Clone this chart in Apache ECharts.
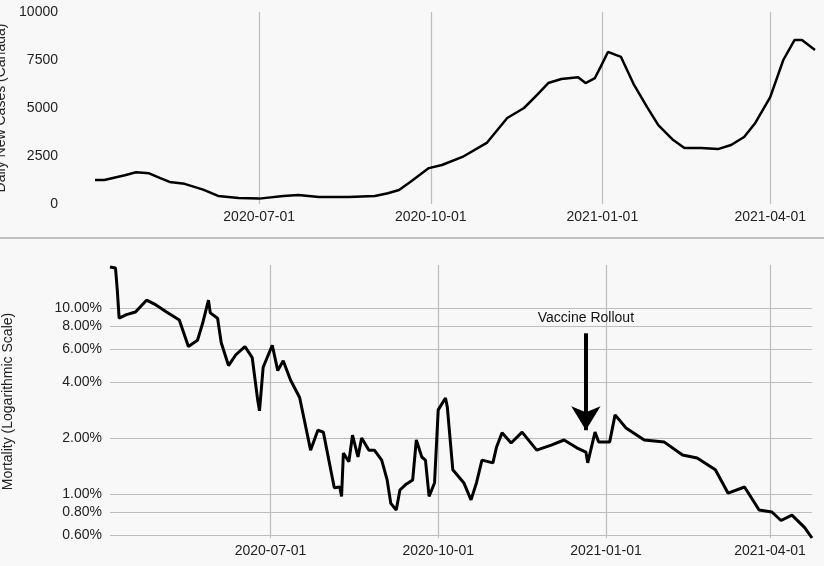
<!DOCTYPE html>
<html>
<head>
<meta charset="utf-8">
<title>Canada cases and mortality</title>
<script src="https://cdn.jsdelivr.net/npm/echarts@6/dist/echarts.min.js"></script>
<style>body{margin:0;background:#f8f8f8}</style>
</head>
<body>
<div id="main" style="width:824px;height:566px;"></div>
<script type="text/javascript">
var caseDates = ['2020-04-04','2020-04-09','2020-04-20','2020-04-26','2020-05-03','2020-05-09','2020-05-14','2020-05-22','2020-06-01','2020-06-09','2020-06-20','2020-07-01','2020-07-14','2020-07-22','2020-08-02','2020-08-18','2020-09-01','2020-09-08','2020-09-14','2020-09-20','2020-09-30','2020-10-07','2020-10-18','2020-10-31','2020-11-11','2020-11-20','2020-11-27','2020-12-03','2020-12-10','2020-12-19','2020-12-23','2020-12-28','2020-12-31','2021-01-04','2021-01-11','2021-01-18','2021-01-25','2021-01-31','2021-02-08','2021-02-14','2021-02-23','2021-03-04','2021-03-11','2021-03-18','2021-03-24','2021-04-01','2021-04-08','2021-04-14','2021-04-18','2021-04-25'];
var caseValues = [1250,1250,1500,1650,1600,1350,1150,1050,750,420,310,280,420,470,370,370,420,560,730,1150,1870,2030,2450,3180,4480,5000,5680,6300,6510,6600,6300,6560,7130,7920,7660,6200,5050,4110,3330,2920,2920,2860,3070,3490,4220,5570,7500,8540,8540,8020];

var mortDates = ['2020-04-04','2020-04-07','2020-04-08','2020-04-09','2020-04-13','2020-04-18','2020-04-24','2020-04-29','2020-05-05','2020-05-12','2020-05-17','2020-05-22','2020-05-25','2020-05-28','2020-05-29','2020-06-02','2020-06-04','2020-06-08','2020-06-12','2020-06-17','2020-06-21','2020-06-24','2020-06-25','2020-06-27','2020-07-02','2020-07-05','2020-07-08','2020-07-12','2020-07-17','2020-07-23','2020-07-27','2020-07-30','2020-08-05','2020-08-08','2020-08-09','2020-08-10','2020-08-13','2020-08-15','2020-08-18','2020-08-20','2020-08-24','2020-08-27','2020-08-31','2020-09-03','2020-09-05','2020-09-08','2020-09-10','2020-09-13','2020-09-17','2020-09-19','2020-09-22','2020-09-24','2020-09-26','2020-09-29','2020-10-01','2020-10-05','2020-10-06','2020-10-09','2020-10-15','2020-10-19','2020-10-22','2020-10-25','2020-10-31','2020-11-02','2020-11-05','2020-11-10','2020-11-16','2020-11-24','2020-12-02','2020-12-09','2020-12-16','2020-12-21','2020-12-22','2020-12-26','2020-12-28','2021-01-03','2021-01-06','2021-01-12','2021-01-22','2021-02-02','2021-02-12','2021-02-20','2021-03-02','2021-03-09','2021-03-18','2021-03-26','2021-04-02','2021-04-07','2021-04-13','2021-04-20','2021-04-24'];
var mortValues = [16.6,16.4,12.5,8.8,9.2,9.5,11.0,10.4,9.5,8.6,6.2,6.7,8.4,11.0,9.4,8.8,6.5,4.9,5.6,6.2,5.4,3.2,2.8,4.8,6.3,4.6,5.2,4.1,3.3,1.72,2.2,2.15,1.08,1.09,0.97,1.66,1.49,2.07,1.58,2.0,1.72,1.72,1.52,1.19,0.89,0.82,1.05,1.12,1.19,1.95,1.58,1.52,0.97,1.15,2.83,3.28,2.93,1.35,1.15,0.93,1.15,1.52,1.47,1.79,2.13,1.88,2.15,1.72,1.83,1.95,1.77,1.68,1.47,2.15,1.9,1.9,2.66,2.26,1.95,1.9,1.62,1.56,1.35,1.01,1.09,0.82,0.80,0.72,0.77,0.66,0.58];

var quarterTicks = ['2020-07-01','2020-10-01','2021-01-01','2021-04-01'];
var mortTicks = [0.6,0.8,1,2,4,6,8,10];

var caseData = caseDates.map(function(d,i){ return [d, caseValues[i]]; });
var mortData = mortDates.map(function(d,i){ return [d, mortValues[i]]; });

var font = 'Liberation Sans, Arial, sans-serif';
var gridColor = '#bdbdbd';

function vLines(dist){
    return quarterTicks.map(function(d){
        return {xAxis: d, label: {formatter: d, position: 'start', distance: dist}};
    });
}

var myChart = echarts.init(document.getElementById('main'));
var option = {
    backgroundColor: '#f8f8f8',
    animation: false,
    textStyle: {fontFamily: font},
    graphic: [
        {type: 'line', shape: {x1: 0, y1: 238, x2: 824, y2: 238}, style: {stroke: '#888', lineWidth: 1}}
    ],
    grid: [
        {left: 95, right: 9, top: 12, bottom: 362, containLabel: false, outerBoundsMode: 'none'},
        {left: 110, right: 12, top: 265, bottom: 28, containLabel: false, outerBoundsMode: 'none'}
    ],
    xAxis: [
        {type: 'time', gridIndex: 0, min: '2020-04-04', max: '2021-04-25',
         axisLabel: {show: false}, axisTick: {show: false}, axisLine: {show: false}, splitLine: {show: false}},
        {type: 'time', gridIndex: 1, min: '2020-04-04', max: '2021-04-24',
         axisLabel: {show: false}, axisTick: {show: false}, axisLine: {show: false}, splitLine: {show: false}}
    ],
    yAxis: [
        {type: 'value', gridIndex: 0, min: 0, max: 10000, interval: 2500,
         name: 'Daily New Cases (Canada)', nameLocation: 'middle', nameGap: 80, nameRotate: 90,
         nameTextStyle: {fontSize: 14, color: '#222', fontFamily: font},
         axisLabel: {color: '#222', fontSize: 14, margin: 37, formatter: function(v){ return String(v); }},
         axisLine: {show: false}, axisTick: {show: false}, splitLine: {show: false}},
        {type: 'log', gridIndex: 1, min: 0.58, max: 17, logBase: 10,
         name: 'Mortality (Logarithmic Scale)', nameLocation: 'middle', nameGap: 95, nameRotate: 90,
         nameTextStyle: {fontSize: 14, color: '#222', fontFamily: font},
         axisLabel: {show: false}, axisLine: {show: false}, axisTick: {show: false}, splitLine: {show: false}}
    ],
    series: [
        {type: 'line', xAxisIndex: 0, yAxisIndex: 0, data: caseData, showSymbol: false,
         lineStyle: {color: '#000', width: 2.5}, z: 5,
         markLine: {silent: true, symbol: 'none', lineStyle: {color: gridColor, type: 'solid', width: 1.2},
            label: {color: '#222', fontSize: 14, fontFamily: font}, data: vLines(6)}},
        {type: 'line', xAxisIndex: 1, yAxisIndex: 1, data: mortData, showSymbol: false,
         lineStyle: {color: '#000', width: 3}, z: 5,
         markLine: {silent: true, symbol: 'none', lineStyle: {color: gridColor, type: 'solid', width: 1.2},
            label: {color: '#222', fontSize: 14, fontFamily: font},
            data: vLines(6).concat(mortTicks.map(function(v){
                return {yAxis: v, label: {formatter: v.toFixed(2) + '%', position: 'start', distance: 8}};
            }))}},
        {type: 'line', xAxisIndex: 1, yAxisIndex: 1, data: [], z: 6,
         markLine: {silent: true, symbol: ['none', 'arrow'], symbolSize: [22, 24],
            lineStyle: {color: '#000', type: 'solid', width: 4},
            label: {position: 'start', formatter: 'Vaccine Rollout', color: '#111', fontSize: 14, distance: 8, fontFamily: font},
            data: [[{coord: ['2020-12-21', 7.3]}, {coord: ['2020-12-21', 2.2]}]]}}
    ]
};
myChart.setOption(option);
</script>
</body>
</html>
